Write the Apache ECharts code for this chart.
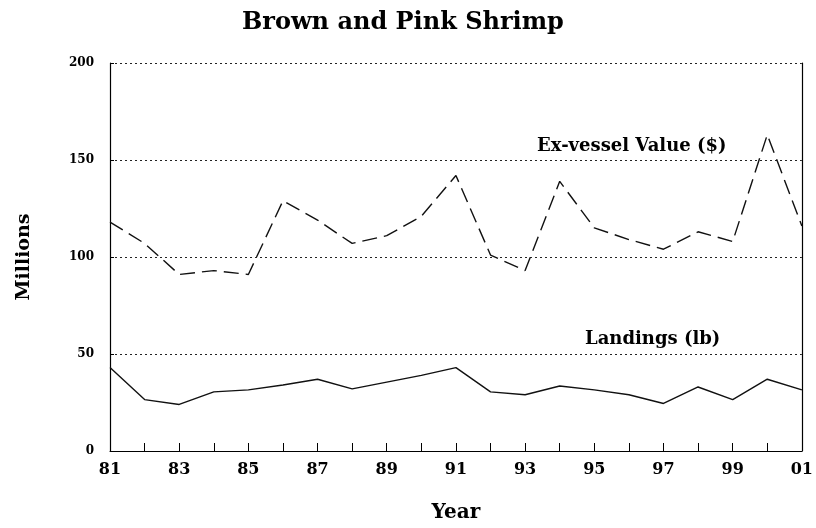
<!DOCTYPE html>
<html>
<head>
<meta charset="utf-8">
<script src="https://cdn.jsdelivr.net/npm/echarts@6/dist/echarts.min.js"></script>
<style>
  html, body { margin: 0; padding: 0; background: #fff; }
  #chart { width: 816px; height: 528px; }
</style>
</head>
<body>
<div id="chart"></div>
<script>
let years = ['81', '82', '83', '84', '85', '86', '87', '88', '89', '90', '91',
             '92', '93', '94', '95', '96', '97', '98', '99', '00', '01'];
// ex-vessel value, millions of $
let valueData = [118, 107, 91, 93, 91, 129, 119, 107, 111, 121, 142,
                 101, 93, 139, 115, 109, 104, 113, 108, 163, 116];
// landings, millions of lb
let landingsData = [43, 26.5, 24, 30.5, 31.5, 34, 37, 32, 35.5, 39, 43,
                    30.5, 29, 33.5, 31.5, 29, 24.5, 33, 26.5, 37, 31.5];
let yTicks = [0, 50, 100, 150, 200];

let chart = echarts.init(document.querySelector('#chart'));
let serif = '"DejaVu Serif", "Liberation Serif", serif';

let option = {
  backgroundColor: '#fff',
  animation: false,
  title: {
    text: 'Brown and Pink Shrimp',
    left: 237,
    top: 6,
    textStyle: { fontFamily: serif, fontWeight: 'bold', fontSize: 24, color: '#000' }
  },
  grid: { left: 110, right: 13, top: 63, bottom: 74 },
  xAxis: {
    type: 'category',
    data: years,
    boundaryGap: false,
    name: 'Year',
    nameLocation: 'middle',
    nameGap: 52,
    nameTextStyle: { fontFamily: serif, fontWeight: 'bold', fontSize: 20, color: '#000' },
    axisLine: { lineStyle: { color: '#000', width: 1 } },
    axisTick: { show: true, inside: true, length: 8, interval: 0, lineStyle: { color: '#000' } },
    axisLabel: {
      interval: 1,
      margin: 11,
      fontFamily: serif, fontWeight: 'bold', fontSize: 16, color: '#000'
    },
    splitLine: { show: false }
  },
  yAxis: [{
    type: 'value',
    min: yTicks[0],
    max: yTicks[yTicks.length - 1],
    interval: 50,
    name: 'Millions',
    nameLocation: 'middle',
    nameGap: 76,
    nameRotate: 90,
    nameTextStyle: { fontFamily: serif, fontWeight: 'bold', fontSize: 19, color: '#000' },
    axisLine: { show: true, lineStyle: { color: '#000', width: 1.2 } },
    axisTick: { show: true, inside: true, length: 4, lineStyle: { color: '#000' } },
    axisLabel: { margin: 16, fontFamily: serif, fontWeight: 'bold', fontSize: 12, color: '#000' },
    splitLine: { show: true, lineStyle: { type: [2, 3], color: '#222', width: 1 } }
  }, {
    type: 'value',
    position: 'right',
    min: 0,
    max: 200,
    interval: 50,
    axisLine: { show: true, lineStyle: { color: '#000', width: 1.2 } },
    axisTick: { show: false },
    axisLabel: { show: false },
    splitLine: { show: false }
  }],
  series: [{
    name: 'Ex-vessel Value ($)',
    type: 'line',
    data: valueData,
    symbol: 'none',
    lineStyle: { color: '#111', width: 1.4, type: [15, 7] }
  }, {
    name: 'Landings (lb)',
    type: 'line',
    data: landingsData,
    symbol: 'none',
    lineStyle: { color: '#111', width: 1.4 }
  }],
  graphic: [{
    type: 'text',
    left: 537,
    top: 137,
    style: { text: 'Ex-vessel Value ($)', font: 'bold 18px ' + serif, fill: '#000' }
  }, {
    type: 'text',
    left: 585,
    top: 330,
    style: { text: 'Landings (lb)', font: 'bold 18px ' + serif, fill: '#000' }
  }]
};

chart.setOption(option);
</script>
</body>
</html>
